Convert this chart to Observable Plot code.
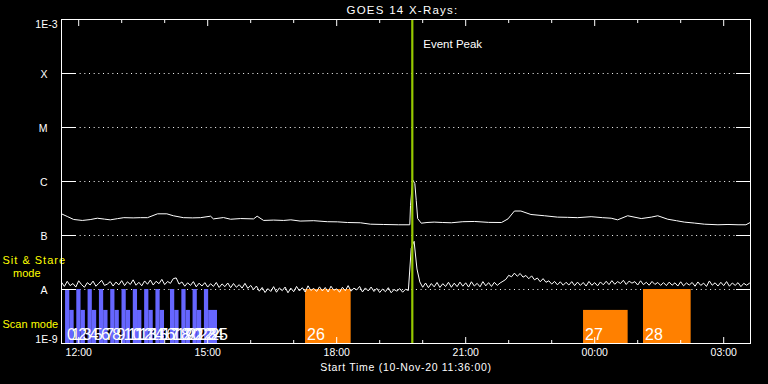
<!DOCTYPE html>
<html><head><meta charset="utf-8">
<script src="https://cdn.jsdelivr.net/npm/d3@7"></script>
<script src="https://cdn.jsdelivr.net/npm/@observablehq/plot@0.6"></script>
<style>
html,body{margin:0;padding:0;background:#000;}
#chart svg{display:block;}
</style></head><body><div id="chart"></div>
<script>
// ---------- texts ----------
const title = "GOES 14 X-Rays:";
const xLabel = "Start Time (10-Nov-20 11:36:00)";
const peakLabel = "Event Peak";
const stareLabel = "Sit & Stare";
const stareLabel2 = "mode";
const scanLabel = "Scan mode";

// ---------- time frame ----------
const timeStart = "2020-11-10T11:36:00";
const timeEnd = "2020-11-11T03:37:24";
const eventPeak = "2020-11-10T19:45:30";

// ---------- y axis ----------
const flareClassValues = [1e-8, 1e-7, 1e-6, 1e-5, 1e-4];
const flareClassLabels = ["A", "B", "C", "M", "X"];
const yTopValue = 1e-3, yTopLabel = "1E-3";
const yBottomValue = 1e-9, yBottomLabel = "1E-9";

// ---------- GOES long channel (1-8 A), minutes after start, flux W/m2 ----------
const upperMinutes = [0, 8, 17, 29, 40, 50, 60, 68, 78, 87, 100, 110, 120, 134, 147, 156, 170, 183, 194, 208, 212, 226, 236, 250, 268, 273, 282, 296, 310, 320, 333, 352, 371, 385, 399, 417, 431, 449, 470, 486, 487, 490, 493, 495, 497, 502, 510, 520, 532, 544, 560, 576, 596, 614, 623, 632, 641, 655, 674, 692, 706, 720, 739, 755, 767, 776, 790, 809, 823, 832, 846, 858, 869, 883, 897, 916, 930, 944, 955, 961];
const upperFlux = [2.52e-7, 2.25e-7, 1.98e-7, 1.90e-7, 1.97e-7, 2.09e-7, 2.01e-7, 1.95e-7, 2.05e-7, 2.14e-7, 2.12e-7, 2.14e-7, 2.14e-7, 2.52e-7, 2.52e-7, 2.32e-7, 2.14e-7, 2.12e-7, 2.14e-7, 2.28e-7, 2.03e-7, 2.15e-7, 2.00e-7, 2.06e-7, 2.03e-7, 2.28e-7, 1.90e-7, 1.93e-7, 1.90e-7, 1.95e-7, 1.85e-7, 1.88e-7, 1.80e-7, 1.79e-7, 1.74e-7, 1.72e-7, 1.62e-7, 1.60e-7, 1.58e-7, 1.58e-7, 3.59e-7, 1.07e-6, 9.2e-7, 4.45e-7, 2.06e-7, 1.69e-7, 1.74e-7, 1.77e-7, 1.74e-7, 1.72e-7, 1.80e-7, 1.82e-7, 1.75e-7, 1.74e-7, 2.03e-7, 2.84e-7, 2.84e-7, 2.45e-7, 2.32e-7, 2.19e-7, 2.17e-7, 2.14e-7, 2.23e-7, 2.14e-7, 2.09e-7, 1.95e-7, 2.32e-7, 2.06e-7, 2.19e-7, 2.32e-7, 2.00e-7, 1.88e-7, 1.77e-7, 1.70e-7, 1.62e-7, 1.58e-7, 1.60e-7, 1.58e-7, 1.58e-7, 1.74e-7];

// ---------- GOES short channel (0.5-4 A), one sample every 4 min, flux in 1e-9 W/m2 ----------
const lowerStepMinutes = 4;
const lowerFlux9 = [
 13.6, 11.4, 14.2, 11.8, 12.9, 11.1, 14.5, 12.3, 11.0, 13.4,
 12.1, 14.3, 11.5, 13.0, 14.8, 11.9, 12.6, 14.0, 11.6, 13.7,
 12.2, 14.6, 11.8, 13.9, 12.4, 15.1, 12.0, 13.6, 11.7, 14.4,
 12.5, 15.0, 12.1, 14.2, 12.8, 15.4, 12.3, 14.1, 13.0, 15.9,
 16.4, 12.6, 13.8, 11.5, 13.3, 11.9, 14.0, 11.2, 13.1, 11.6,
 13.4, 11.1, 12.8, 11.4, 13.5, 10.9, 12.7, 11.3, 13.2, 10.8,
 12.9, 11.0, 12.3, 10.6, 13.0, 10.5, 11.9, 10.0, 11.6, 9.3,
 10.9, 8.8, 10.4, 9.2, 11.3, 8.9, 10.7, 9.5, 11.1, 8.7,
 10.6, 9.1, 11.4, 9.4, 10.8, 9.0, 11.7, 9.6, 10.5, 9.2,
 11.2, 9.4, 10.9, 9.0, 11.5, 9.7, 10.3, 8.9, 11.0, 9.5,
 11.8, 9.3, 10.6, 9.8, 11.4, 9.0, 10.7, 9.4, 11.1, 9.2,
 10.5, 8.8, 10.2, 9.1, 10.8, 8.7, 10.0, 9.3, 10.4, 8.9,
 10.1, 9.6, 58.0, 78.0, 24.0, 13.8, 11.0, 13.2, 10.8, 12.9,
 11.2, 13.5, 10.9, 12.8, 11.4, 13.6, 11.0, 13.1, 11.3, 13.7,
 11.5, 13.3, 11.1, 13.9, 11.6, 13.0, 11.2, 14.0, 11.7, 13.4,
 11.4, 13.6, 11.9, 13.2, 14.2, 15.4, 18.3, 17.2, 20.1, 17.6,
 19.8, 16.9, 18.2, 15.8, 17.9, 15.1, 16.3, 13.9, 15.9, 13.6,
 14.5, 12.6, 14.1, 12.2, 13.9, 12.0, 13.6, 12.1, 14.0, 11.8,
 13.7, 11.9, 13.5, 11.6, 14.1, 12.0, 13.4, 11.7, 13.8, 12.2,
 14.2, 12.3, 14.6, 12.5, 14.0, 12.9, 14.8, 12.4, 14.3, 13.1,
 14.0, 12.1, 14.5, 12.3, 13.6, 12.0, 14.1, 12.4, 13.5, 11.9,
 13.4, 11.8, 13.7, 12.0, 13.3, 11.6, 13.9, 11.7, 13.2, 12.1,
 13.5, 11.5, 13.8, 11.9, 13.1, 11.4, 14.4, 12.0, 13.3, 11.6,
 13.6, 11.8, 14.0, 11.5, 13.2, 11.9, 13.4, 11.3, 13.0, 12.0,
 13.1];

// ---------- observing sessions ----------
const sessionIds = [0,1,2,3,4,5,6,7,8,9,10,11,12,13,14,15,16,17,18,19,20,21,22,23,24,25,26,27,28];
const sessionStart = ["2020-11-10T11:41:40","2020-11-10T11:47:35","2020-11-10T11:57:20","2020-11-10T12:03:15","2020-11-10T12:13:05","2020-11-10T12:19:00","2020-11-10T12:28:55","2020-11-10T12:34:50","2020-11-10T12:44:40","2020-11-10T12:50:35","2020-11-10T13:00:25","2020-11-10T13:06:20","2020-11-10T13:16:10","2020-11-10T13:22:05","2020-11-10T13:32:00","2020-11-10T13:37:55","2020-11-10T13:47:45","2020-11-10T13:53:40","2020-11-10T14:08:05","2020-11-10T14:14:00","2020-11-10T14:23:55","2020-11-10T14:29:50","2020-11-10T14:39:35","2020-11-10T14:45:30","2020-11-10T14:55:25","2020-11-10T15:01:20","2020-11-10T17:16:30","2020-11-10T23:44:25","2020-11-11T01:08:05"];
const sessionEnd = ["2020-11-10T11:47:35","2020-11-10T11:53:40","2020-11-10T12:03:15","2020-11-10T12:09:20","2020-11-10T12:19:00","2020-11-10T12:25:05","2020-11-10T12:34:50","2020-11-10T12:40:55","2020-11-10T12:50:35","2020-11-10T12:56:40","2020-11-10T13:06:20","2020-11-10T13:12:25","2020-11-10T13:22:05","2020-11-10T13:28:10","2020-11-10T13:37:55","2020-11-10T13:44:00","2020-11-10T13:53:40","2020-11-10T13:59:45","2020-11-10T14:14:00","2020-11-10T14:20:05","2020-11-10T14:29:50","2020-11-10T14:35:55","2020-11-10T14:45:30","2020-11-10T14:51:35","2020-11-10T15:01:20","2020-11-10T15:13:40","2020-11-10T18:20:10","2020-11-11T00:46:40","2020-11-11T02:14:35"];
const sessionMode = ["stare","scan","stare","scan","stare","scan","stare","scan","stare","scan","stare","scan","stare","scan","stare","scan","stare","scan","stare","scan","stare","scan","stare","scan","stare","scan","stare","scan","stare"];
const sessionGroup = ["a","a","a","a","a","a","a","a","a","a","a","a","a","a","a","a","a","a","a","a","a","a","a","a","a","a","b","b","b"];
const modeLevel = {stare: 1e-8, scan: 4.1e-9};

// ---------- build ----------
const parse = s => new Date(s + "Z");
const t0 = parse(timeStart), t1 = parse(timeEnd);
const addMin = m => new Date(t0.getTime() + m * 60000);
const upper = upperMinutes.map((m, i) => ({time: addMin(m), flux: upperFlux[i]}));
const lower = lowerFlux9.map((v, i) => ({time: addMin(i * lowerStepMinutes), flux: v * 1e-9}));
const sessions = sessionIds.map((id, i) => ({id, start: parse(sessionStart[i]), end: parse(sessionEnd[i]), level: modeLevel[sessionMode[i]], group: sessionGroup[i]}));
const hours = d3.utcHours(t0, t1);
const majorHours = hours.filter(d => d.getUTCHours() % 3 === 0);
const minorHours = hours.filter(d => d.getUTCHours() % 3 !== 0);
const peak = parse(eventPeak);

const W = 768, H = 384, mT = 19, mB = 41, mL = 61, mR = 18;
const fw = W - mL - mR, fh = H - mT - mB;
const FONT = "Liberation Sans, Arial, sans-serif";

const svg = Plot.plot({
  width: W, height: H,
  marginTop: mT, marginBottom: mB, marginLeft: mL, marginRight: mR,
  style: {background: "black", color: "white", fontFamily: FONT, fontSize: "10.5px"},
  x: {type: "utc", domain: [t0, t1], axis: null},
  y: {type: "log", domain: [1e-9, 1e-3], axis: null},
  marks: [
    Plot.tickY(flareClassValues, {stroke: "white", insetLeft: 14, insetRight: 14, strokeDasharray: "1,3.67"}),
    Plot.rect(sessions, {filter: d => d.group === "a", x1: "start", x2: "end", y1: yBottomValue, y2: "level", fill: "#6666ff"}),
    Plot.rect(sessions, {filter: d => d.group === "b", x1: "start", x2: "end", y1: yBottomValue, y2: "level", fill: "#ff8000"}),
    Plot.tickY(flareClassValues, {stroke: "white", insetRight: fw - 14}),
    Plot.tickY(flareClassValues, {stroke: "white", insetLeft: fw - 14}),
    Plot.tickX(majorHours, {stroke: "white", insetBottom: fh - 7}),
    Plot.tickX(minorHours, {stroke: "white", insetBottom: fh - 4}),
    Plot.tickX(majorHours, {stroke: "white", insetTop: fh - 6}),
    Plot.tickX(minorHours, {stroke: "white", insetTop: fh - 3}),
    Plot.text(sessions, {x: "start", text: d => String(d.id), frameAnchor: "bottom", lineAnchor: "bottom", dy: -4, dx: 1.5, textAnchor: "start", fill: "white", fontSize: 16}),
    Plot.line(upper, {x: "time", y: "flux", stroke: "white", strokeWidth: 1}),
    Plot.line(lower, {x: "time", y: "flux", stroke: "white", strokeWidth: 1}),
    Plot.ruleX([peak], {stroke: "#96c800", strokeWidth: 2.2}),
    Plot.text([peakLabel], {x: () => peak, text: d => d, frameAnchor: "top", lineAnchor: "bottom", dy: 28, dx: 11, textAnchor: "start", fill: "white", fontSize: 11.5}),
    Plot.text(flareClassLabels, {y: (d, i) => flareClassValues[i], text: d => d, frameAnchor: "left", textAnchor: "end", dx: -14, dy: 1.2, fill: "white", fontSize: 10.5}),
    Plot.text([yTopLabel], {y: () => yTopValue, text: d => d, frameAnchor: "left", textAnchor: "end", lineAnchor: "top", dx: -4, dy: 1, fill: "white", fontSize: 10.5}),
    Plot.text([yBottomLabel], {y: () => yBottomValue, text: d => d, frameAnchor: "left", textAnchor: "end", lineAnchor: "bottom", dx: -4, dy: -0.3, fill: "white", fontSize: 10.5}),
    Plot.text(majorHours, {x: d => d, text: d => d3.utcFormat("%H:%M")(d), frameAnchor: "bottom", dy: 12.5, fill: "white", fontSize: 10.5}),
    Plot.text([xLabel], {text: d => d, frameAnchor: "bottom", lineAnchor: "bottom", dy: 27, fill: "white", fontSize: 10.5}),
    Plot.text([title], {text: d => d, frameAnchor: "top", lineAnchor: "bottom", dy: -5.7, dx: -3.5, fill: "white", fontSize: 11.5}),
    Plot.text([stareLabel], {text: d => d, frameAnchor: "bottom-left", lineAnchor: "bottom", textAnchor: "start", dx: -59, dy: -80, fill: "#ffff00", fontSize: 11}),
    Plot.text([stareLabel2], {text: d => d, frameAnchor: "bottom-left", lineAnchor: "bottom", textAnchor: "start", dx: -48.5, dy: -67, fill: "#ffff00", fontSize: 11}),
    Plot.text([scanLabel], {text: d => d, frameAnchor: "bottom-left", lineAnchor: "bottom", textAnchor: "start", dx: -59, dy: -16, fill: "#ffff00", fontSize: 11}),
    Plot.frame({stroke: "white"})
  ]
});

const s = d3.select(svg);
s.selectAll("text").filter(function () { return this.textContent === title; }).attr("letter-spacing", "1.25px");
s.selectAll("text").filter(function () { return this.textContent === xLabel; }).attr("letter-spacing", "0.7px");
s.selectAll("text").filter(function () { return this.textContent === stareLabel; }).attr("letter-spacing", "1px");
document.getElementById("chart").appendChild(svg);
</script>
</body></html>
